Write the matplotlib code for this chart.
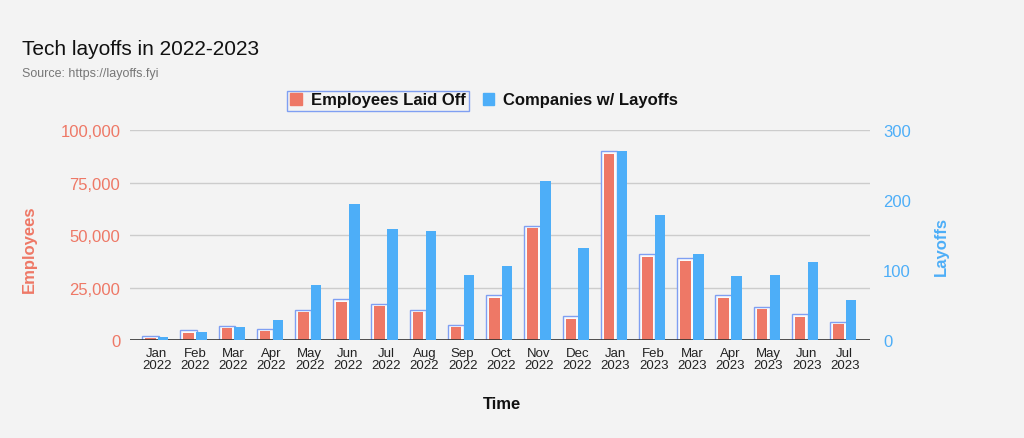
import numpy as np
from matplotlib import pyplot as plt
from matplotlib.patches import Rectangle

months = ['Jan', 'Feb', 'Mar', 'Apr', 'May', 'Jun', 'Jul', 'Aug', 'Sep', 'Oct',
          'Nov', 'Dec', 'Jan', 'Feb', 'Mar', 'Apr', 'May', 'Jun', 'Jul']
years = ['2022'] * 12 + ['2023'] * 7
employees = [800, 3500, 5600, 4100, 13200, 18200, 16000, 13200, 6000, 20000,
             53200, 10000, 88700, 39700, 37600, 20000, 14600, 11100, 7500]
companies = [4, 12, 18, 29, 79, 194, 159, 156, 93, 106,
             227, 132, 270, 178, 123, 91, 93, 112, 57]

RED = '#ee7866'
BLUE = '#4daef8'
BG = '#f3f3f3'

plt.rcParams['font.family'] = ['Liberation Sans', 'DejaVu Sans']

fig = plt.figure(figsize=(10.24, 4.39), dpi=100, facecolor=BG)
ax = fig.add_axes([0.127, 0.2232, 0.723, 0.4784])
ax.set_facecolor(BG)
ax2 = ax.twinx()

x = np.arange(len(months))
w = 0.275
off = 0.168

# red bars with the highlighted outline box behind them
ax.bar(x - off, np.array(employees) + 1300, width=0.43, color='#fbfbfb',
       edgecolor='#7f9ff2', linewidth=1.0, zorder=2)
ax.bar(x - off, employees, width=w, color=RED, zorder=3)
ax2.bar(x + off, companies, width=w, color=BLUE, zorder=3)

ax.set_xlim(-0.7, len(months) - 1 + 0.67)
ax.set_ylim(0, 100000)
ax2.set_ylim(0, 300)

ax.set_yticks(np.arange(0, 100001, 25000))
ax.set_yticklabels(['{:,}'.format(v) for v in range(0, 100001, 25000)],
                   color=RED, fontsize=12)
ax2.set_yticks([0, 100, 200, 300])
ax2.set_yticklabels(['0', '100', '200', '300'], color=BLUE, fontsize=12)
ax.tick_params(axis='y', length=0, pad=7)
ax2.tick_params(axis='y', length=0, pad=9)

ax.set_xticks(x)
ax.set_xticklabels([m + '\n' + y for m, y in zip(months, years)],
                   fontsize=9.5, color='#222222', linespacing=1.0)
ax.tick_params(axis='x', length=0, pad=5)

ax.grid(axis='y', color='#cccccc', linewidth=1, zorder=0)
ax.set_axisbelow(True)
for a in (ax, ax2):
    for s in a.spines.values():
        s.set_visible(False)
ax.axhline(0, color='#333333', linewidth=1.2, zorder=5)

fig.text(22 / 1024, 1 - 55 / 439, 'Tech layoffs in 2022-2023', fontsize=15,
         color='#111111', va='baseline')
fig.text(22 / 1024, 1 - 77 / 439, 'Source: https://layoffs.fyi', fontsize=9,
         color='#777777', va='baseline')

fig.text(29 / 1024, 1 - 249 / 439, 'Employees', rotation=90, fontsize=12,
         fontweight='bold', color=RED, ha='center', va='center')
fig.text(941 / 1024, 1 - 247 / 439, 'Layoffs', rotation=90, fontsize=12,
         fontweight='bold', color=BLUE, ha='center', va='center')
fig.text(502 / 1024, 1 - 405 / 439, 'Time', fontsize=12, fontweight='bold',
         color='#111111', ha='center', va='center')

h1 = Rectangle((0, 0), 1, 1, color=RED)
h2 = Rectangle((0, 0), 1, 1, color=BLUE)
leg = fig.legend([h1, h2], ['Employees Laid Off', 'Companies w/ Layoffs'],
                 loc='center', bbox_to_anchor=(0.473, 1 - 101 / 439), ncol=2,
                 frameon=False, handlelength=0.7, handleheight=0.7,
                 handletextpad=0.55, columnspacing=1.0,
                 prop={'weight': 'bold', 'size': 12})
for t in leg.get_texts():
    t.set_color('#111111')

# box around the first legend entry
fig.canvas.draw()
r = fig.canvas.get_renderer()
tb = leg.get_texts()[0].get_window_extent(r)
hb = leg.legend_handles[0].get_window_extent(r)
x0, x1 = hb.x0 - 3, tb.x1 + 3
y0, y1 = min(tb.y0, hb.y0) - 3, max(tb.y1, hb.y1) + 2
inv = fig.transFigure.inverted()
(fx0, fy0), (fx1, fy1) = inv.transform([(x0, y0), (x1, y1)])
fig.patches.append(Rectangle((fx0, fy0), fx1 - fx0, fy1 - fy0, fill=False,
                             edgecolor='#7f9ff2', linewidth=1.0,
                             transform=fig.transFigure, figure=fig))

fig.savefig('out.png', dpi=100, facecolor=BG)
plt.close(fig)
